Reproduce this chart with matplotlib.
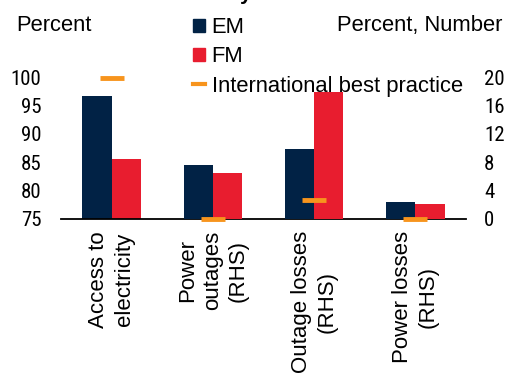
import matplotlib
matplotlib.use("Agg")
import matplotlib.pyplot as plt
from matplotlib import font_manager
from matplotlib.patches import Patch
from matplotlib.lines import Line2D
import numpy as np

# data
categories = ["Access to\nelectricity", "Power\noutages\n(RHS)",
              "Outage losses\n(RHS)", "Power losses\n(RHS)"]
em_values = [96.8, 7.6, 9.9, 2.4]
fm_values = [85.5, 6.5, 18.0, 2.1]
best_practice = [100.0, 0.0, 2.6, 0.0]
left_ticks = [75, 80, 85, 90, 95, 100]
right_ticks = [0, 4, 8, 12, 16, 20]

navy = "#012245"
red = "#E81D2F"
orange = "#F7941D"

plt.rcParams["font.family"] = ["Liberation Sans", "DejaVu Sans"]

# tick numbers in the reference use a narrow face, pick one if there is one
names = {f.name for f in font_manager.fontManager.ttflist}
tickfont = ["Liberation Sans"]
for cand in ["Liberation Sans Narrow", "Roboto Condensed", "Open Sans Condensed",
             "DejaVu Sans Condensed"]:
    if cand in names:
        tickfont = [cand]
        break

W, H = 505, 375
fig = plt.figure(figsize=(W / 100, H / 100), dpi=100)
ax = fig.add_axes([61 / W, 1 - 218.5 / H, 405 / W, 141 / H])
ax2 = ax.twinx()

x = np.arange(len(categories))
bw = 0.29

# first category on the left scale, the rest on the right (RHS)
ax.bar(x[0] - bw / 2, em_values[0], bw, color=navy)
ax.bar(x[0] + bw / 2, fm_values[0], bw, color=red)
ax.plot(x[0], best_practice[0], marker="_", color=orange, markersize=17,
        markeredgewidth=3.5, linestyle="None", clip_on=False, zorder=5)

ax2.bar(x[1:] - bw / 2, em_values[1:], bw, color=navy)
ax2.bar(x[1:] + bw / 2, fm_values[1:], bw, color=red)
ax2.plot(x[1:], best_practice[1:], marker="_", color=orange, markersize=17,
         markeredgewidth=3.5, linestyle="None", clip_on=False, zorder=5)

ax.set_ylim(75, 100)
ax2.set_ylim(0, 20)
ax.set_xlim(-0.5, 3.5)
ax.set_yticks(left_ticks)
ax2.set_yticks(right_ticks)
ax.set_xticks(x)
ax.set_xticklabels(categories, rotation=90, fontsize=16, linespacing=1.28)

for a in (ax, ax2):
    for s in a.spines.values():
        s.set_visible(False)
    a.tick_params(length=0)
ax.spines["bottom"].set_visible(True)
ax.spines["bottom"].set_linewidth(1.3)
ax.spines["bottom"].set_zorder(6)
ax.tick_params(axis="x", pad=9)
ax.tick_params(axis="y", pad=14)
ax2.tick_params(axis="y", pad=13)
for lab in ax.get_yticklabels() + ax2.get_yticklabels():
    lab.set_family(tickfont)
    lab.set_fontsize(15)

fig.text(16 / W, 1 - 31 / H, "Percent", fontsize=15.8, va="baseline")
fig.text(502 / W, 1 - 31 / H, "Percent, Number", fontsize=15.8, va="baseline", ha="right")
fig.text(240 / W, 1.0, "y", fontsize=15, fontweight="bold", va="baseline")

handles = [Patch(color=navy), Patch(color=red),
           Line2D([0], [0], color=orange, linewidth=3)]
fig.legend(handles, ["EM", "FM", "International best practice"],
           loc="upper left", bbox_to_anchor=(193 / W, 1 - 17 / H),
           frameon=False, fontsize=15.8, handlelength=0.55, handleheight=0.55,
           handletextpad=0.3, labelspacing=0.38, borderpad=0, borderaxespad=0)

fig.savefig("out.png", dpi=100)
